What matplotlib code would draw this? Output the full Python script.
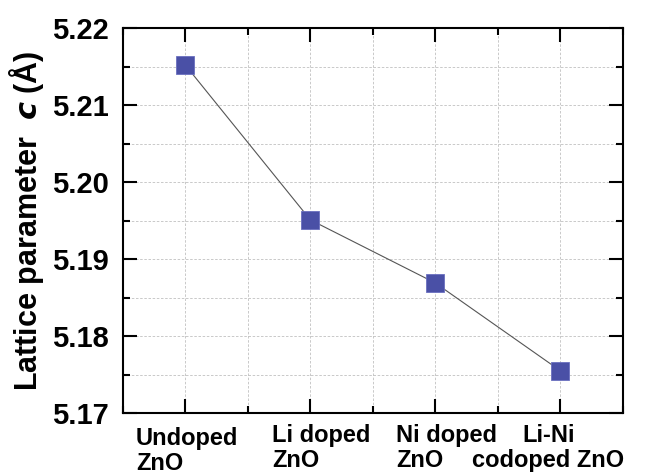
import matplotlib
matplotlib.use("Agg")
import matplotlib.pyplot as plt
import matplotlib.transforms as mtransforms
from matplotlib.ticker import MultipleLocator, FormatStrFormatter

plt.rcParams['font.family'] = ['Liberation Sans', 'DejaVu Sans']
plt.rcParams['font.weight'] = 'bold'

samples = ["Undoped\nZnO", "Li doped\nZnO", "Ni doped\nZnO", "Li-Ni\ncodoped ZnO"]
lattice_c = [5.2152, 5.1951, 5.1869, 5.1755]
label_align = ['left', 'left', 'left', 'center']
# small pixel nudges of the category labels (dx, dy)
label_shift = [(2, -3), (11, 0), (11, 0), (-12, 0)]

fig = plt.figure(figsize=(6.53, 4.76), dpi=100)
ax = fig.add_axes([0.188, 0.132, 0.766, 0.809])

x = list(range(len(samples)))
ax.plot(x, lattice_c, color='#555555', linewidth=0.8, zorder=2)
ax.plot(x, lattice_c, linestyle='none', marker='s', markersize=13,
        markerfacecolor='#4a50a6', markeredgecolor='#6a70c0',
        markeredgewidth=0.6, zorder=3)

ax.set_xlim(-0.5, 3.5)
ax.set_ylim(5.17, 5.22)
ax.xaxis.set_minor_locator(MultipleLocator(0.5))
ax.yaxis.set_major_locator(MultipleLocator(0.01))
ax.yaxis.set_minor_locator(MultipleLocator(0.005))
ax.yaxis.set_major_formatter(FormatStrFormatter('%.2f'))

ax.set_xticks(x)
ax.set_xticklabels([])
trans = mtransforms.blended_transform_factory(ax.transData, ax.transAxes)
for xi, name, al, (dx, dy) in zip(x, samples, label_align, label_shift):
    off = mtransforms.ScaledTranslation(dx / 100, (dy - 11) / 100, fig.dpi_scale_trans)
    ax.text(xi, 0, name, transform=trans + off, ha='center', va='top',
            multialignment=al, fontsize=17, fontweight='bold', linespacing=1.08)

ax.tick_params(axis='y', labelsize=21)
for lab in ax.get_yticklabels():
    lab.set_fontweight('bold')

ax.tick_params(which='both', direction='in', top=True, right=True, width=1.5)
ax.tick_params(which='major', length=10)
ax.tick_params(which='minor', length=5)
ax.tick_params(axis='y', pad=10)

ax.grid(True, which='both', linestyle=(0, (3, 2)), color='#c0c0c0', linewidth=0.6)
ax.set_axisbelow(True)
for sp in ax.spines.values():
    sp.set_linewidth(1.5)

ax.set_ylabel(r"Lattice parameter  $\mathbfit{c}$ (Å)", fontsize=22, fontweight='bold', labelpad=4)

fig.savefig("out.png", dpi=100)
